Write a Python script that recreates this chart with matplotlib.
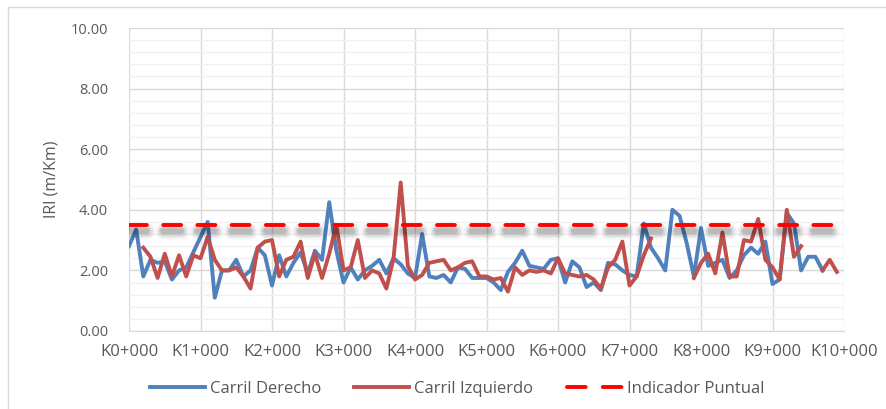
import numpy as np
import matplotlib.pyplot as plt
import matplotlib.patheffects as pe
from matplotlib.patches import Rectangle
from matplotlib.lines import Line2D
from matplotlib.ticker import MultipleLocator, FormatStrFormatter

nan = np.nan

# abscisa en km, cada 100 m
km = [i / 10 for i in range(100)]

# IRI carril derecho (m/Km)
derecho = [2.8, 3.35, 1.8, 2.35, 2.25, 2.3, 1.7, 2.0, 2.1, 2.6,
           3.1, 3.6, 1.1, 2.0, 2.0, 2.35, 1.8, 2.0, 2.75, 2.5,
           1.5, 2.5, 1.8, 2.25, 2.6, 1.9, 2.65, 2.35, 4.25, 2.65,
           1.6, 2.1, 1.7, 2.0, 2.15, 2.35, 1.9, 2.4, 2.2, 1.9,
           1.75, 3.2, 1.8, 1.75, 1.85, 1.6, 2.1, 2.05, 1.75, 1.75,
           1.75, 1.6, 1.35, 1.95, 2.25, 2.65, 2.15, 2.1, 2.05, 2.35,
           2.4, 1.6, 2.3, 2.1, 1.45, 1.6, 1.35, 2.25, 2.2, 2.0,
           1.85, 1.8, 3.55, 2.75, 2.4, 2.0, 4.0, 3.8, 2.9, 1.8,
           3.4, 2.15, 2.25, 2.35, 1.75, 2.0, 2.5, 2.75, 2.55, 2.95,
           1.55, 1.7, 3.9, 3.55, 2.0, 2.45, 2.45, 2.0, nan, nan]

# IRI carril izquierdo (m/Km)
izquierdo = [nan, nan, 2.75, 2.45, 1.75, 2.55, 1.8, 2.5, 1.8, 2.5,
             2.4, 3.1, 2.35, 2.0, 2.0, 2.1, 1.8, 1.4, 2.75, 2.95,
             3.0, 1.8, 2.35, 2.45, 2.95, 1.75, 2.55, 1.75, 2.55, 3.5,
             2.0, 2.1, 3.0, 1.75, 2.0, 1.9, 1.4, 2.4, 4.9, 2.15,
             1.7, 1.85, 2.25, 2.3, 2.35, 2.0, 2.1, 2.25, 2.3, 1.8,
             1.8, 1.7, 1.75, 1.3, 2.1, 1.85, 2.0, 1.95, 2.0, 1.9,
             2.4, 1.9, 1.85, 1.8, 1.85, 1.7, 1.4, 2.1, 2.35, 2.95,
             1.5, 1.8, 2.5, 3.05, nan, nan, nan, nan, nan, 1.75,
             2.25, 2.55, 1.9, 3.25, 1.8, 1.8, 3.0, 2.95, 3.7, 2.35,
             2.1, 1.7, 4.0, 2.45, 2.8, nan, nan, 2.0, 2.35, 1.95]

indicador = 3.5
xticks = list(range(11))
xlabels = ['K%d+000' % k for k in xticks]

plt.rcParams['font.family'] = ['Open Sans', 'DejaVu Sans']
gris = '#595959'

fig = plt.figure(figsize=(8.86, 4.09), dpi=100)
fig.patches.append(Rectangle((8 / 886, -0.1), 1.2, 1 - 7 / 409 + 0.1,
                             transform=fig.transFigure, fill=False,
                             edgecolor='#D9D9D9', linewidth=1))
ax = fig.add_axes([129 / 886, 1 - 331 / 409, (844 - 129) / 886, (331 - 28) / 409])

ax.plot(km, derecho, color='#4F81BD', lw=2.8, zorder=3)
ax.plot(km, izquierdo, color='#C0504D', lw=2.8, zorder=4)

# sombra difusa tipo Excel bajo la linea del indicador
shadow = [pe.SimpleLineShadow(offset=(0, -4), shadow_color='black', alpha=a, linewidth=w)
          for w, a in [(12, 0.03), (10, 0.04), (8, 0.05), (6, 0.07), (4, 0.1)]]
ax.plot([0, 10], [indicador, indicador], color='#FF0000', lw=2.8,
        dashes=(4.6, 4.2), zorder=5, solid_capstyle='round', dash_capstyle='round',
        path_effects=shadow + [pe.Normal()])

ax.set_xlim(0, 10)
ax.set_ylim(0, 10)
ax.set_xticks(xticks)
ax.set_xticklabels(xlabels)
ax.yaxis.set_major_locator(MultipleLocator(2))
ax.yaxis.set_minor_locator(MultipleLocator(0.4))
ax.yaxis.set_major_formatter(FormatStrFormatter('%.2f'))
ax.grid(which='major', color='#D9D9D9', lw=1)
ax.grid(which='minor', axis='y', color='#F0F0F0', lw=1)
ax.set_axisbelow(True)
for s in ['top', 'right', 'left']:
    ax.spines[s].set_visible(False)
ax.spines['bottom'].set_color('#D9D9D9')
ax.tick_params(which='both', length=0, colors=gris)
ax.tick_params(axis='x', labelsize=12, pad=9)
ax.tick_params(axis='y', labelsize=10.5, pad=15)
ax.set_ylabel('IRI (m/Km)', fontsize=11.5, color=gris, labelpad=8)

handles = [Line2D([], [], color='#4F81BD', lw=2.8),
           Line2D([], [], color='#C0504D', lw=2.8),
           Line2D([], [], color='#FF0000', lw=2.8, dashes=(4.8, 4.4), dash_capstyle='round')]
labels = ['Carril Derecho', 'Carril Izquierdo', 'Indicador Puntual']
fig.legend(handles, labels, loc='center', bbox_to_anchor=(457 / 886, 1 - 389 / 409), ncol=3,
           frameon=False, fontsize=12, labelcolor=gris, handlelength=3.3,
           columnspacing=2.0, handletextpad=0.3)

fig.savefig('out.png', dpi=100)
